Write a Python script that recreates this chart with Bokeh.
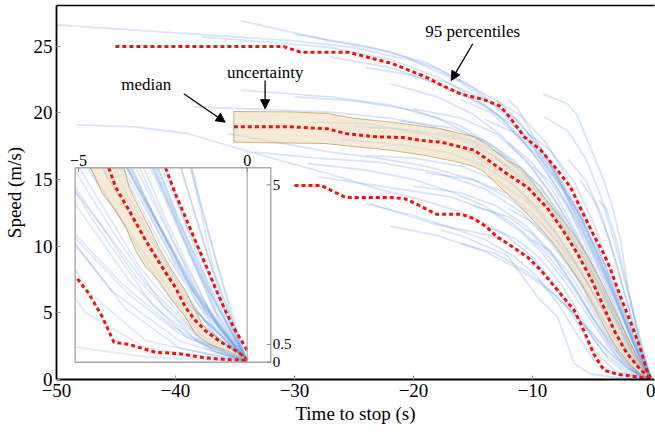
import numpy as np
from bokeh.plotting import figure
from bokeh.models import Range1d, LinearAxis, Arrow, NormalHead, Label, FixedTicker
from bokeh.embed import file_html
from bokeh.resources import INLINE
from bokeh.core.properties import value

# ---------------- data ----------------
x_ticks = [-50, -40, -30, -20, -10, 0]
x_tick_labels = ["\u221250", "\u221240", "\u221230", "\u221220", "\u221210", "0"]
y_ticks = [0, 5, 10, 15, 20, 25]
y_tick_labels = ["0", "5", "10", "15", "20", "25"]

median_t = [-35.1, -30.3, -27.2, -25.7, -23.2, -20.9, -19.5, -17.7, -14.9, -13.5, -12.1, -10.4, -8.8, -7.45, -6.2, -5.0, -4.0, -3.1, -2.1, -1.0, 0.0]
median_v = [18.95, 18.95, 18.8, 18.45, 18.2, 18.15, 17.95, 17.8, 17.2, 16.3, 15.4, 14.4, 12.9, 11.2, 9.4, 7.4, 5.4, 3.6, 2.0, 0.8, 0.0]

band_upper_t = [-35.1, -30.3, -27.2, -25.1, -21.8, -17.7, -14.9, -13.5, -12.1, -11.0, -9.9, -8.8, -7.7, -6.6, -5.4, -4.2, -3.1, -2.1, -1.2, -0.5, 0.0]
band_upper_v = [20.1, 20.07, 19.95, 19.6, 19.3, 18.8, 18.2, 17.4, 16.4, 15.9, 14.7, 13.4, 12.2, 11.0, 9.3, 7.3, 5.2, 3.3, 1.7, 0.6, 0.0]
band_lower_t = [-35.1, -30.3, -27.4, -24.6, -21.8, -19.0, -16.5, -15.0, -14.1, -12.7, -11.3, -9.9, -8.5, -7.2, -5.9, -4.8, -3.8, -2.8, -1.8, -0.9, 0.0]
band_lower_v = [17.8, 17.73, 17.7, 17.43, 17.18, 16.8, 16.35, 16.0, 15.6, 14.4, 13.2, 11.9, 10.5, 8.9, 7.2, 5.4, 3.7, 2.2, 1.1, 0.4, 0.0]

upper95_t = [-45.05, -30.9, -29.5, -25.5, -24.6, -21.8, -19.0, -17.7, -16.0, -14.1, -12.7, -11.85, -10.7, -9.3, -7.9, -6.8, -6.0, -4.9, -4.0, -3.5, -2.6, -1.8, -0.96, -0.4, 0.0]
upper95_v = [24.97, 24.97, 24.55, 24.55, 24.35, 23.7, 22.7, 22.1, 21.4, 21.0, 20.5, 19.6, 18.2, 17.2, 15.7, 14.4, 12.9, 10.9, 9.4, 8.4, 6.2, 4.4, 2.4, 0.7, 0.0]

lower95_t = [-30.0, -27.8, -27.4, -25.7, -21.8, -20.7, -19.5, -18.1, -16.0, -14.9, -13.8, -13.0, -12.1, -10.45, -9.3, -7.9, -6.5, -5.7, -4.85, -4.0, -2.9, -0.96, 0.0]
lower95_v = [14.55, 14.55, 14.4, 13.65, 13.65, 13.55, 13.05, 12.4, 12.4, 12.05, 11.4, 10.7, 10.2, 9.2, 8.2, 6.7, 5.2, 3.7, 1.9, 0.7, 0.4, 0.17, 0.0]

# individual stops: (time to stop, speed) points
traces_high = [
    [(-50, 26.6), (-40, 26.0), (-30, 25.4), (-25, 24.9), (-20, 23.9), (-16, 22.3), (-13, 20.4), (-10.5, 18.1), (-8, 15.1), (-6, 12.3), (-4, 8.7), (-2, 4.3), (0, 0)],
    [(-34.5, 26.9), (-27, 25.4), (-22, 24.6), (-18, 23.3), (-15, 21.9), (-12.8, 20.8), (-11, 19.2), (-9, 16.8), (-7, 14.1), (-5, 10.9), (-3, 6.8), (-1.5, 3.3), (0, 0)],
    [(-37.8, 25.7), (-27, 24.9), (-22, 24.0), (-18, 22.7), (-15, 21.2), (-12.5, 19.5), (-10, 17.0), (-7.5, 13.8), (-5.3, 10.3), (-3.3, 6.4), (-1.5, 2.6), (0, 0)],
    [(-30, 25.9), (-24, 25.0), (-19, 23.8), (-15.5, 22.2), (-12.5, 20.2), (-10, 17.8), (-7.8, 15.0), (-5.8, 11.9), (-3.8, 7.9), (-2, 3.9), (0, 0)],
    [(-27, 24.2), (-22, 23.4), (-18, 22.2), (-14, 20.6), (-11, 18.6), (-8.5, 16.0), (-6.5, 13.0), (-4.5, 9.4), (-2.7, 5.6), (-1.2, 2.2), (0, 0)],
    [(-24, 23.4), (-20, 22.8), (-16, 21.5), (-13, 19.9), (-10, 17.4), (-7.5, 14.4), (-5.5, 11.0), (-3.5, 7.0), (-1.6, 2.9), (0, 0)],
    [(-12.1, 21.0), (-11.3, 20.4), (-9.9, 18.2), (-8.5, 16.2), (-7.1, 13.7), (-5.7, 11.2), (-4.0, 8.0), (-2.3, 4.4), (-1.0, 1.5), (0, 0)],
    [(-22, 22.2), (-18, 21.2), (-15, 19.9), (-12.5, 18.2), (-10, 15.8), (-8, 13.3), (-6, 10.3), (-4, 6.8), (-2.2, 3.4), (-0.8, 0.9), (0, 0)],
    [(-16, 21.0), (-13.5, 20.0), (-11, 18.1), (-9, 15.9), (-7, 13.0), (-5, 9.4), (-3.2, 5.5), (-1.5, 2.0), (0, 0)],
    [(-13, 20.9), (-11, 19.8), (-9, 17.9), (-7.2, 15.3), (-5.5, 12.2), (-3.8, 8.3), (-2.2, 4.4), (-0.9, 1.4), (0, 0)],
    [(-20, 23.0), (-17, 22.2), (-14, 21.0), (-11.5, 19.6), (-9.5, 17.6), (-7.5, 14.8), (-5.6, 11.6), (-3.8, 7.8), (-2, 3.8), (-0.8, 1.1), (0, 0)],
]
traces_mid = [
    [(-38.4, 20.45), (-27, 20.05), (-22, 19.6), (-18, 18.9), (-15, 17.8), (-12, 16.0), (-9.5, 13.9), (-7, 11.0), (-5, 8.0), (-3, 4.5), (-1.2, 1.5), (0, 0)],
    [(-34.5, 21.7), (-27, 21.2), (-22, 20.6), (-18, 19.6), (-14, 17.8), (-11, 15.6), (-8.5, 13.0), (-6.5, 10.3), (-4.5, 7.2), (-2.5, 3.6), (-1, 1.0), (0, 0)],
    [(-30, 21.2), (-25, 20.9), (-20, 20.2), (-16, 19.0), (-13, 17.3), (-10, 14.8), (-7.5, 11.9), (-5.5, 8.9), (-3.5, 5.4), (-1.5, 1.8), (0, 0)],
    [(-28.5, 19.3), (-24, 19.2), (-19, 18.4), (-15.5, 17.2), (-12.5, 15.4), (-10, 13.2), (-7.8, 10.6), (-5.8, 7.8), (-3.8, 4.7), (-1.8, 1.7), (0, 0)],
    [(-25, 19.0), (-20, 18.7), (-16, 18.0), (-13, 16.6), (-10.5, 14.6), (-8, 12.0), (-6, 9.2), (-4, 6.0), (-2, 2.6), (0, 0)],
    [(-20, 20.3), (-16, 19.6), (-13, 18.4), (-10.5, 16.4), (-8.5, 14.0), (-6.5, 11.0), (-4.6, 7.6), (-2.8, 4.2), (-1.2, 1.4), (0, 0)],
    [(-18, 18.5), (-15, 17.9), (-12, 16.6), (-9.5, 14.6), (-7.5, 12.2), (-5.5, 9.1), (-3.8, 5.9), (-2, 2.5), (0, 0)],
    [(-14, 19.5), (-11.5, 18.5), (-9.5, 16.7), (-7.5, 14.2), (-5.8, 11.2), (-4, 7.6), (-2.4, 4.0), (-1, 1.2), (0, 0)],
    [(-12, 17.8), (-10, 16.2), (-8, 13.8), (-6.3, 11.0), (-4.6, 7.8), (-3, 4.6), (-1.5, 1.7), (0, 0)],
    [(-35.6, 18.45), (-27, 17.05), (-23, 16.6), (-19, 16.0), (-15, 15.0), (-12, 13.6), (-9, 11.5), (-6.5, 8.8), (-4.5, 6.0), (-2.5, 2.9), (-1, 0.8), (0, 0)],
    [(-33.4, 17.05), (-28, 16.6), (-23, 16.3), (-18, 15.5), (-14, 14.3), (-11, 12.6), (-8.5, 10.3), (-6, 7.3), (-4, 4.4), (-2, 1.6), (0, 0)],
    [(-24, 16.8), (-20, 16.6), (-16, 16.0), (-13, 14.9), (-10.5, 13.4), (-8.2, 11.2), (-6, 8.3), (-4, 5.0), (-2, 1.9), (0, 0)],
    [(-26, 18.0), (-21, 17.6), (-17, 17.0), (-14, 16.0), (-11.5, 14.5), (-9.2, 12.5), (-7.2, 10.0), (-5.3, 7.1), (-3.5, 4.2), (-1.7, 1.6), (0, 0)],
    [(-16, 17.2), (-13, 16.5), (-10.5, 15.0), (-8.5, 13.0), (-6.8, 10.6), (-5.2, 7.8), (-3.6, 4.8), (-2, 2.1), (-0.8, 0.6), (0, 0)],
    [(-10, 16.0), (-8.5, 14.8), (-7, 12.8), (-5.6, 10.2), (-4.3, 7.4), (-3, 4.6), (-1.6, 2.0), (0, 0)],
    [(-21, 19.4), (-17, 18.9), (-14, 17.9), (-11.5, 16.4), (-9.3, 14.4), (-7.4, 11.9), (-5.7, 9.1), (-4.1, 6.1), (-2.5, 3.2), (-1.1, 1.1), (0, 0)],
]
traces_low = [
    [(-48.3, 19.1), (-43.4, 18.95), (-39, 18.45), (-32.3, 16.7), (-27, 15.4), (-23, 14.3), (-19, 13.4), (-15.5, 12.4), (-12.5, 11.0), (-10, 9.2), (-8, 7.0), (-6, 4.4), (-4, 2.0), (-2, 0.6), (0, 0)],
    [(-28.9, 16.2), (-24, 15.7), (-20, 15.0), (-16.9, 14.1), (-14, 13.0), (-11.5, 11.6), (-9, 9.6), (-7, 7.4), (-5, 4.7), (-3, 2.2), (-1.3, 0.6), (0, 0)],
    [(-28, 15.2), (-22, 14.4), (-16.9, 13.7), (-13.5, 12.6), (-11, 11.1), (-9, 9.3), (-7, 7.0), (-5.2, 4.6), (-3.5, 2.3), (-1.8, 0.7), (0, 0)],
    [(-24.1, 13.2), (-20, 12.3), (-16.9, 11.4), (-14, 10.5), (-11.5, 9.2), (-9.6, 7.7), (-7.8, 5.6), (-6.2, 3.3), (-4.8, 1.4), (-3, 0.4), (0, 0)],
    [(-17.7, 11.2), (-16, 10.8), (-12.1, 9.3), (-9.6, 6.2), (-7.9, 4.7), (-6.5, 1.2), (-5.15, 0.43), (-3, 0.15), (0, 0)],
    [(-23.7, 13.2), (-18.4, 11.7), (-12.8, 10.65), (-10, 9.0), (-8, 6.8), (-6.2, 4.2), (-4.6, 1.9), (-3, 0.6), (0, 0)],
    [(-20, 14.5), (-16, 14.0), (-13, 13.0), (-10.5, 11.5), (-8.5, 9.6), (-6.8, 7.4), (-5, 4.8), (-3.3, 2.4), (-1.6, 0.7), (0, 0)],
    [(-15, 13.0), (-12, 12.2), (-10, 10.9), (-8, 8.9), (-6.2, 6.5), (-4.5, 3.9), (-2.8, 1.6), (-1.2, 0.4), (0, 0)],
    [(-12, 12.8), (-10, 11.8), (-8, 10.0), (-6.3, 7.7), (-4.8, 5.2), (-3.2, 2.7), (-1.6, 0.9), (0, 0)],
    [(-10, 10.5), (-8.5, 9.6), (-7, 8.1), (-5.5, 6.0), (-4, 3.7), (-2.5, 1.6), (-1, 0.3), (0, 0)],
    [(-19, 15.5), (-15, 15.0), (-12, 13.9), (-9.8, 12.3), (-7.8, 10.2), (-6, 7.6), (-4.3, 4.9), (-2.6, 2.2), (-1.1, 0.5), (0, 0)],
    [(-14, 11.5), (-11.5, 10.6), (-9.5, 9.2), (-7.8, 7.4), (-6.3, 5.3), (-5, 3.2), (-3.6, 1.5), (-2, 0.4), (0, 0)],
    [(-22, 11.5), (-18, 10.8), (-14, 9.6), (-11, 8.2), (-8.5, 6.6), (-6.5, 4.9), (-5, 3.4), (-3.5, 1.9), (-2, 0.8), (0, 0)],
    [(-16, 10.2), (-13, 9.4), (-10.5, 8.1), (-8.5, 6.7), (-6.8, 5.2), (-5.2, 3.7), (-3.7, 2.2), (-2.2, 1.0), (-0.9, 0.3), (0, 0)],
]
traces_late = [
    [(-9.1, 21.4), (-7.1, 20.7), (-6.3, 19.9), (-4.9, 16.9), (-4.0, 14.9), (-3.2, 12.7), (-2.6, 10.4), (-2.0, 7.0), (-1.0, 2.6), (0, 0)],
    [(-10.5, 18.5), (-8.5, 17.2), (-6.5, 14.8), (-4.8, 11.6), (-3.4, 8.0), (-2.1, 4.6), (-1, 1.8), (0, 0)],
    [(-7, 16.5), (-5.5, 14.9), (-4.2, 12.3), (-3.1, 9.2), (-2.1, 5.9), (-1.1, 2.8), (0, 0)],
    [(-4.5, 13.5), (-3.8, 12.8), (-3.0, 10.6), (-2.2, 7.6), (-1.3, 4.2), (-0.5, 1.4), (0, 0)],
    [(-9, 19.7), (-7, 18.6), (-5.5, 16.5), (-4.2, 13.6), (-3, 10.0), (-1.9, 6.2), (-0.9, 2.8), (0, 0)],
    [(-6, 15.0), (-4.7, 13.2), (-3.6, 10.6), (-2.5, 7.2), (-1.5, 4.0), (-0.6, 1.3), (0, 0)],
]

# inset (last 5 s) statistics
inset_x_ticks = [-5, 0]
inset_x_tick_labels = ["\u22125", "0"]
inset_y_ticks = [5, 0.5, 0]
inset_y_tick_labels = ["5", "0.5", "0"]

inset_median_t = [-4.10, -3.9, -3.5, -3.01, -2.52, -2.13, -1.83, -1.54, -1.24, -0.85, -0.35, -0.06, 0.0]
inset_median_v = [5.48, 4.93, 4.28, 3.43, 2.68, 2.11, 1.55, 1.18, 0.89, 0.61, 0.33, 0.14, 0.05]
inset_band_upper_t = [-3.65, -3.5, -3.31, -2.91, -2.62, -2.23, -1.83, -1.54, -1.34, -1.04, -0.65, -0.25, 0.0]
inset_band_upper_v = [5.48, 4.93, 4.56, 3.81, 3.24, 2.59, 2.02, 1.46, 1.08, 0.8, 0.52, 0.24, 0.06]
inset_band_lower_t = [-4.64, -4.29, -3.9, -3.6, -3.31, -3.01, -2.62, -2.23, -1.83, -1.54, -1.14, -0.55, 0.0]
inset_band_lower_v = [5.48, 4.75, 4.28, 3.81, 3.15, 2.68, 2.3, 1.74, 1.27, 0.8, 0.52, 0.3, 0.04]
inset_upper95_t = [-2.42, -2.13, -1.83, -1.54, -1.24, -0.95, -0.65, -0.35, -0.11, 0.0]
inset_upper95_v = [5.48, 4.75, 4.09, 3.43, 2.77, 2.11, 1.46, 0.89, 0.52, 0.33]
inset_lower95_t = [-5.03, -4.69, -4.29, -3.95, -3.5, -2.72, -2.03, -1.24, -0.55, 0.0]
inset_lower95_v = [2.35, 1.93, 1.27, 0.56, 0.5, 0.28, 0.24, 0.12, 0.07, 0.05]

# ---------------- layout constants ----------------
FONT = "Liberation Serif"
W, H = 655, 435
B_LEFT, B_RIGHT, B_TOP, B_BOTTOM = 54, 1, 5, 56
FRAME_W = W - B_LEFT - B_RIGHT
FRAME_H = H - B_TOP - B_BOTTOM

# inset window in data units and its placement in the frame (pixels from frame left/top)
INSET_X = (-5.1, 0.7)
INSET_Y = (0.0, 5.48)
IN_L, IN_R, IN_T, IN_B = 18.7, 215.0, 162.3, 356.7

ux = (INSET_X[1] - INSET_X[0]) / (IN_R - IN_L)
uy = (INSET_Y[1] - INSET_Y[0]) / (IN_B - IN_T)
ix_start = INSET_X[0] - IN_L * ux
iy_start = INSET_Y[0] - (FRAME_H - IN_B) * uy

BLUE = "#5a93e0"
RED = "#ec1313"
TAN = "#ecdcbb"
TAN_LINE = "#b8944e"

p = figure(width=W, height=H, x_range=Range1d(-50, 0.25), y_range=Range1d(0, 28.05),
           output_backend="svg", toolbar_location=None,
           min_border_left=B_LEFT, min_border_right=B_RIGHT,
           min_border_top=B_TOP, min_border_bottom=B_BOTTOM)
p.extra_x_ranges = {"ix": Range1d(ix_start, ix_start + FRAME_W * ux)}
p.extra_y_ranges = {"iy": Range1d(iy_start, iy_start + FRAME_H * uy)}
p.outline_line_color = None
p.grid.visible = False
p.background_fill_color = "white"
p.border_fill_color = "white"

for ax in (p.xaxis[0], p.yaxis[0]):
    ax.axis_line_color = "black"
    ax.axis_line_width = 1.8
    ax.major_tick_in = 4
    ax.major_tick_out = 0
    ax.major_tick_line_color = "#999999"
    ax.minor_tick_in = 0
    ax.minor_tick_out = 0
    ax.major_label_text_font = FONT
    ax.major_label_text_font_size = "19px"
    ax.major_label_text_color = "black"
    ax.axis_label_text_font = FONT
    ax.axis_label_text_font_size = "19px"
    ax.axis_label_text_font_style = "normal"
    ax.axis_label_text_color = "black"

p.xaxis.ticker = x_ticks
p.xaxis.major_label_overrides = {t: s for t, s in zip(x_ticks, x_tick_labels)}
p.yaxis.ticker = y_ticks
p.yaxis.major_label_overrides = {t: s for t, s in zip(y_ticks, y_tick_labels)}
p.xaxis.axis_label = "Time to stop (s)"
p.yaxis.axis_label = "Speed (m/s)"
p.xaxis.major_label_standoff = 4
p.xaxis.axis_label_standoff = 3
p.yaxis.major_label_standoff = 4
p.yaxis.axis_label_standoff = 6

top = LinearAxis(major_tick_in=0, major_tick_out=0, minor_tick_in=0, minor_tick_out=0,
                 ticker=FixedTicker(ticks=[]), major_label_standoff=0,
                 axis_line_color="black", axis_line_width=1.5)
p.add_layout(top, "above")

all_traces = traces_high + traces_mid + traces_low + traces_late

# main panel
p.multi_line(xs=[[pt[0] for pt in tr] for tr in all_traces],
             ys=[[pt[1] for pt in tr] for tr in all_traces],
             line_color=BLUE, line_alpha=0.24, line_width=1.8)
p.patch(x=band_upper_t + band_lower_t[::-1], y=band_upper_v + band_lower_v[::-1],
        fill_color=TAN, fill_alpha=0.6, line_color=TAN_LINE, line_width=0.9, line_alpha=0.75)
for tt, vv in ((median_t, median_v), (upper95_t, upper95_v), (lower95_t, lower95_v)):
    p.line(tt, vv, line_color=RED, line_width=3, line_dash="4 3")


# clip traces to the inset window (Liang-Barsky)
def clip_seg(x0, y0, x1, y1):
    dx, dy = x1 - x0, y1 - y0
    u0, u1 = 0.0, 1.0
    for pp, qq in ((-dx, x0 - INSET_X[0]), (dx, INSET_X[1] - x0),
                   (-dy, y0 - INSET_Y[0]), (dy, INSET_Y[1] - y0)):
        if pp == 0:
            if qq < 0:
                return None
        else:
            r = qq / pp
            if pp < 0:
                u0 = max(u0, r)
            else:
                u1 = min(u1, r)
    if u0 > u1:
        return None
    return (x0 + u0 * dx, y0 + u0 * dy, x0 + u1 * dx, y0 + u1 * dy)


inset_xs, inset_ys = [], []
for tr in all_traces:
    px, py = [], []
    for (a, b), (c, d) in zip(tr[:-1], tr[1:]):
        s = clip_seg(a, b, c, d)
        if s is None:
            continue
        if not px:
            px += [s[0], s[2]]
            py += [s[1], s[3]]
        else:
            px.append(s[2])
            py.append(s[3])
    if len(px) > 1:
        inset_xs.append(px)
        inset_ys.append(py)

R = dict(x_range_name="ix", y_range_name="iy")
p.quad(left=[INSET_X[0]], right=[INSET_X[1]], bottom=[INSET_Y[0]], top=[INSET_Y[1]],
       fill_color="white", line_color=None, **R)
p.multi_line(xs=inset_xs, ys=inset_ys, line_color=BLUE, line_alpha=0.2, line_width=1.8, **R)
p.patch(x=inset_band_upper_t + inset_band_lower_t[::-1],
        y=inset_band_upper_v + inset_band_lower_v[::-1],
        fill_color=TAN, fill_alpha=0.6, line_color=TAN_LINE, line_width=0.9, line_alpha=0.75, **R)
for tt, vv in ((inset_median_t, inset_median_v), (inset_upper95_t, inset_upper95_v),
               (inset_lower95_t, inset_lower95_v)):
    p.line(tt, vv, line_color=RED, line_width=3, line_dash="4 3", **R)
p.segment(x0=[0], y0=[INSET_Y[0]], x1=[0], y1=[INSET_Y[1]], line_color="#a8a8a8", line_width=1.2, **R)
p.quad(left=[INSET_X[0]], right=[INSET_X[1]], bottom=[INSET_Y[0]], top=[INSET_Y[1]],
       fill_color=None, line_color="#a8a8a8", line_width=1.4, **R)
p.ray(x=[INSET_X[1]] * len(inset_y_ticks), y=inset_y_ticks, length=4, length_units="screen",
      angle=np.pi, line_color="#888888", line_width=1, **R)
p.ray(x=inset_x_ticks, y=[INSET_Y[1]] * len(inset_x_ticks), length=4, length_units="screen",
      angle=-np.pi / 2, line_color="#888888", line_width=1, **R)
p.text(x=inset_x_ticks, y=[INSET_Y[1]] * len(inset_x_ticks), text=inset_x_tick_labels,
       text_align="center", text_baseline="bottom", y_offset=-2,
       text_font=value(FONT), text_font_size="16px", text_color="black", **R)
p.text(x=[INSET_X[1]] * len(inset_y_ticks), y=inset_y_ticks, text=inset_y_tick_labels,
       text_align="left", text_baseline="middle", x_offset=2,
       text_font=value(FONT), text_font_size="15px", text_color="black", **R)

# annotations
for txt, x, y in (("median", -42.46, 22.1), ("uncertainty", -32.45, 23.0), ("95 percentiles", -15.02, 26.07)):
    p.add_layout(Label(x=x, y=y, text=txt, text_align="center", text_baseline="middle",
                       text_font=FONT, text_font_size="17px", text_color="black"))
for xs_, ys_, xe, ye in ((-39.3, 21.43, -35.82, 19.3), (-32.47, 22.43, -32.47, 20.31),
                         (-15.02, 25.18, -16.83, 22.43)):
    p.add_layout(Arrow(end=NormalHead(size=9, fill_color="black", line_color="black"),
                       x_start=xs_, y_start=ys_, x_end=xe, y_end=ye,
                       line_color="black", line_width=1.3))

open("out.html", "w").write(file_html(p, INLINE))
